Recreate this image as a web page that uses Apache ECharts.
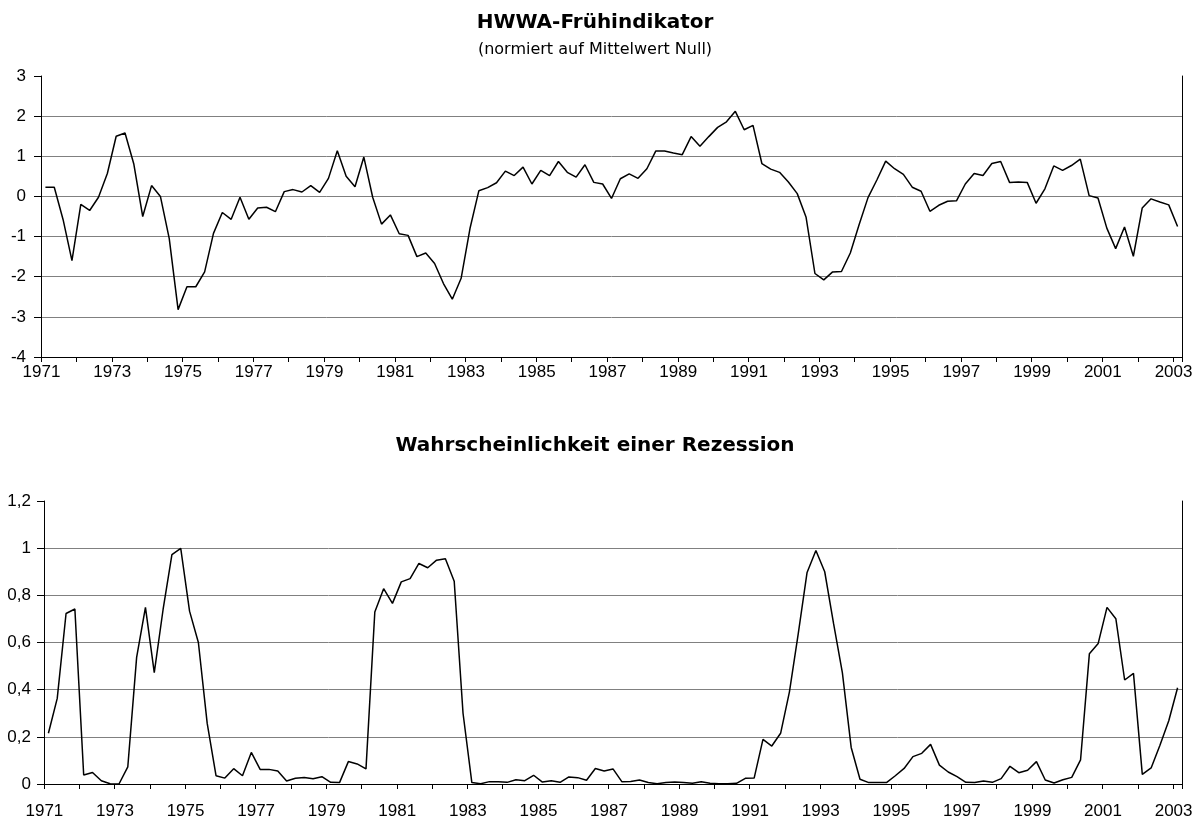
<!DOCTYPE html>
<html>
<head>
<meta charset="utf-8">
<script src="https://cdn.jsdelivr.net/npm/echarts/dist/echarts.min.js"></script>
<style>
html,body{margin:0;padding:0;background:#fff;}
#c{width:1195px;height:820px;}
</style>
</head>
<body>
<div id="c"></div>
<script>
// Quarterly categories 1971 Q1 .. 2003 Q1
const startYear = 1971;
const quarterCount = 129;
const quarters = [];
for (let k = 0; k < quarterCount; k++) {
  quarters.push((startYear + Math.floor(k / 4)) + ' Q' + (k % 4 + 1));
}

// HWWA-Frühindikator (normiert auf Mittelwert Null)
const hwwaValues = [
  0.23, 0.23, -0.58, -1.6, -0.2, -0.35, -0.02, 0.57, 1.5, 1.58,
  0.8, -0.5, 0.27, 0.0, -1.05, -2.82, -2.25, -2.25, -1.88, -0.92,
  -0.4, -0.57, -0.02, -0.57, -0.29, -0.27, -0.38, 0.12, 0.17, 0.11,
  0.27, 0.1, 0.45, 1.14, 0.5, 0.24, 0.98, -0.02, -0.69, -0.46,
  -0.93, -0.97, -1.5, -1.41, -1.67, -2.17, -2.56, -2.04, -0.8, 0.14,
  0.22, 0.34, 0.63, 0.52, 0.73, 0.31, 0.65, 0.52, 0.87, 0.6,
  0.48, 0.79, 0.35, 0.31, -0.05, 0.44, 0.56, 0.45, 0.69, 1.13,
  1.13, 1.08, 1.04, 1.49, 1.25, 1.49, 1.72, 1.86, 2.12, 1.66,
  1.77, 0.82, 0.68, 0.6, 0.36, 0.07, -0.52, -1.92, -2.08, -1.88,
  -1.87, -1.41, -0.7, -0.03, 0.41, 0.88, 0.69, 0.55, 0.23, 0.13,
  -0.37, -0.22, -0.12, -0.11, 0.31, 0.57, 0.52, 0.82, 0.87, 0.35,
  0.36, 0.35, -0.17, 0.19, 0.76, 0.65, 0.77, 0.93, 0.02, -0.04,
  -0.79, -1.3, -0.76, -1.49, -0.29, -0.06, -0.14, -0.21, -0.75
];

// Wahrscheinlichkeit einer Rezession
const recessionValues = [
  0.215, 0.363, 0.723, 0.742, 0.038, 0.049, 0.014, 0.001, 0.0, 0.073,
  0.537, 0.749, 0.472, 0.74, 0.973, 0.999, 0.733, 0.6, 0.257, 0.035,
  0.025, 0.065, 0.035, 0.134, 0.062, 0.062, 0.055, 0.013, 0.024, 0.028,
  0.022, 0.031, 0.007, 0.006, 0.095, 0.085, 0.064, 0.729, 0.828, 0.766,
  0.857, 0.871, 0.935, 0.917, 0.949, 0.955, 0.86, 0.3, 0.006, 0.001,
  0.01, 0.01, 0.007, 0.018, 0.014, 0.037, 0.008, 0.014, 0.007, 0.03,
  0.027, 0.016, 0.066, 0.055, 0.064, 0.01, 0.011, 0.017, 0.006, 0.001,
  0.006, 0.008, 0.006, 0.003, 0.01, 0.003, 0.001, 0.001, 0.003, 0.024,
  0.025, 0.189, 0.161, 0.215, 0.391, 0.638, 0.897, 0.99, 0.9, 0.681,
  0.472, 0.155, 0.02, 0.006, 0.006, 0.006, 0.035, 0.066, 0.116, 0.13,
  0.168, 0.08, 0.051, 0.031, 0.007, 0.006, 0.013, 0.007, 0.023, 0.075,
  0.048, 0.058, 0.095, 0.017, 0.004, 0.018, 0.028, 0.102, 0.552, 0.596,
  0.749, 0.701, 0.441, 0.469, 0.041, 0.068, 0.164, 0.268, 0.408
];

// Axis scales
const topScale = { min: -4, max: 3, interval: 1 };
const bottomScale = { min: 0, max: 1.2, interval: 0.2 };

const titleTop = 'HWWA-Frühindikator';
const subtitleTop = '(normiert auf Mittelwert Null)';
const titleBottom = 'Wahrscheinlichkeit einer Rezession';

const labelFont = 'Liberation Sans';
const titleFont = 'DejaVu Sans';

function xAxisFor(gridIndex, margin) {
  return {
    type: 'category', gridIndex: gridIndex, data: quarters, boundaryGap: true,
    axisLine: { show: true, onZero: false, lineStyle: { color: '#000', width: 1 } },
    axisTick: { show: true, interval: 3, length: 5, lineStyle: { color: '#000', width: 1 } },
    axisLabel: {
      interval: 7, formatter: v => v.slice(0, 4),
      fontFamily: labelFont, fontSize: 17, color: '#000', margin: margin,
      padding: [0, 8, 0, 0]
    },
    splitLine: { show: false }
  };
}
function yAxisFor(gridIndex, scale, margin, fmt) {
  return {
    type: 'value', gridIndex: gridIndex, min: scale.min, max: scale.max, interval: scale.interval,
    axisLine: { show: true, lineStyle: { color: '#000', width: 1 } },
    axisTick: { show: true, length: 7, lineStyle: { color: '#000', width: 1 } },
    axisLabel: { fontFamily: labelFont, fontSize: 17, color: '#000', margin: margin, formatter: fmt },
    splitLine: { show: true, showMinLine: false, showMaxLine: false, lineStyle: { color: '#808080', width: 1 } }
  };
}
function borderAxisFor(gridIndex, scale) {
  return {
    type: 'value', gridIndex: gridIndex, position: 'right', min: scale.min, max: scale.max, interval: scale.interval,
    axisLine: { show: true, lineStyle: { color: '#000', width: 1 } },
    axisTick: { show: false }, axisLabel: { show: false }, splitLine: { show: false }
  };
}

const chart = echarts.init(document.getElementById('c'), null, { renderer: 'canvas' });
chart.setOption({
  animation: false,
  backgroundColor: '#fff',
  grid: [
    { left: 41, top: 76, width: 1141, height: 281, containLabel: false, outerBoundsMode: 'none' },
    { left: 44, top: 501, width: 1138, height: 283, containLabel: false, outerBoundsMode: 'none' }
  ],
  xAxis: [xAxisFor(0, 7), xAxisFor(1, 19)],
  yAxis: [
    yAxisFor(0, topScale, 15, v => String(v)),
    yAxisFor(1, bottomScale, 13, v => String(+(+v).toFixed(1)).replace('.', ',')),
    borderAxisFor(0, topScale),
    borderAxisFor(1, bottomScale)
  ],
  graphic: [
    { type: 'text', x: 595, y: 23, silent: true,
      style: { text: titleTop, fontFamily: titleFont, fontSize: 20, fontWeight: 'bold', fill: '#000', align: 'center', verticalAlign: 'middle' } },
    { type: 'text', x: 595, y: 50, silent: true,
      style: { text: subtitleTop, fontFamily: titleFont, fontSize: 16, fill: '#000', align: 'center', verticalAlign: 'middle' } },
    { type: 'text', x: 595, y: 446, silent: true,
      style: { text: titleBottom, fontFamily: titleFont, fontSize: 20, fontWeight: 'bold', fill: '#000', align: 'center', verticalAlign: 'middle' } }
  ],
  series: [
    { type: 'line', xAxisIndex: 0, yAxisIndex: 0, data: hwwaValues, symbol: 'none', showSymbol: false,
      silent: true, lineStyle: { color: '#000', width: 1.5 } },
    { type: 'line', xAxisIndex: 1, yAxisIndex: 1, data: recessionValues, symbol: 'none', showSymbol: false,
      silent: true, lineStyle: { color: '#000', width: 1.5 } }
  ]
});
</script>
</body>
</html>
